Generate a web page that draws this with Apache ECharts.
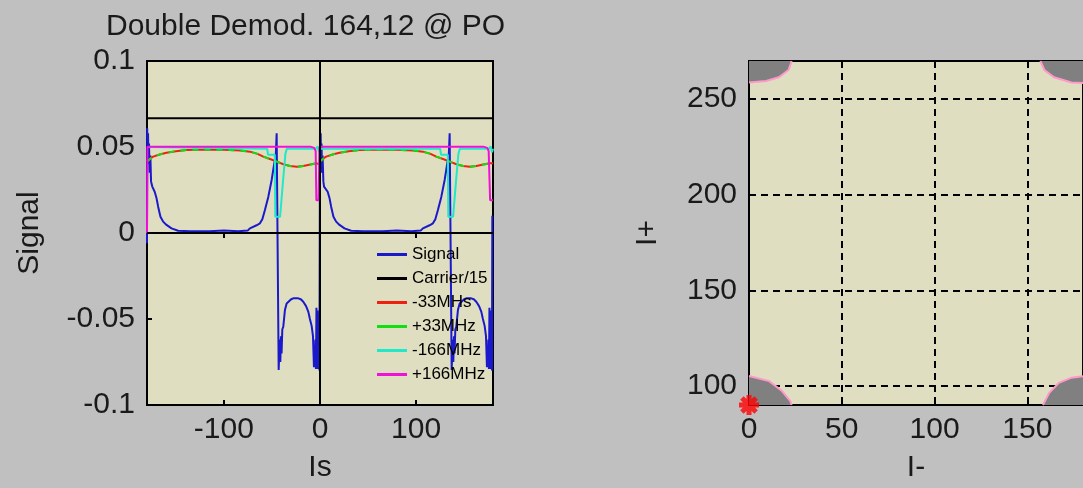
<!DOCTYPE html>
<html><head><meta charset="utf-8">
<script src="https://cdn.jsdelivr.net/npm/echarts@6/dist/echarts.min.js"></script>
<style>html,body{margin:0;padding:0;background:#c0c0c0}#c{width:1083px;height:488px}</style>
</head><body><div id="c"></div>
<script>
const titleText = 'Double Demod. 164,12 @ PO';
const seriesNames = ['Signal', 'Carrier/15', '-33MHs', '+33MHz', '-166MHz', '+166MHz'];
const leftXTicks = [-100, 0, 100];
const rightYTicks = [100, 150, 200, 250];

const signal = [[-180,-0.006],[-179.8,0.061],[-179.3,0.04],[-178.9,0.058],[-178.4,0.042],[-177.9,0.052],[-177.3,0.035],[-176.5,0.045],[-175.8,0.03],[-174.5,0.027],[-172,0.024],[-170,0.02],[-168.4,0.0153],[-166,0.0095],[-163.2,0.0066],[-159.7,0.0047],[-154.5,0.0027],[-147.6,0.0013],[-135,0.001],[-115,0.001],[-100,0.0015],[-85,0.001],[-75,0.0015],[-72.9,0.0027],[-66,0.0045],[-62.5,0.0056],[-60,0.008],[-57.3,0.0134],[-53.8,0.021],[-50.3,0.0308],[-47.6,0.0405],[-46,0.045],[-45.1,0.058],[-43,-0.0797],[-42,-0.062],[-41.3,-0.075],[-40.6,-0.06],[-40,-0.07],[-39.2,-0.056],[-38.2,-0.0545],[-36.5,-0.0448],[-34.7,-0.041],[-33,-0.04],[-30,-0.0385],[-27.8,-0.038],[-22.6,-0.038],[-20,-0.0385],[-17.4,-0.04],[-14.5,-0.0425],[-12.2,-0.0457],[-10.5,-0.05],[-8.7,-0.054],[-7.3,-0.06],[-6.3,-0.078],[-5.8,-0.066],[-5.3,-0.077],[-4.8,-0.062],[-4.2,-0.079],[-3.7,-0.0435],[-3.2,-0.079],[-2.6,-0.045],[-2,-0.079],[-1.4,-0.05],[-0.6,-0.08],
[0,0.061],[0.2,0.04],[0.7,0.058],[1.1,0.042],[1.6,0.052],[2.1,0.035],[2.7,0.045],[3.5,0.03],[4.2,0.027],[5.5,0.027],[8,0.024],[10,0.02],[11.6,0.0153],[14,0.0095],[16.8,0.0066],[20.3,0.0047],[25.5,0.0027],[32.4,0.0013],[45,0.001],[65,0.001],[80,0.0015],[95,0.001],[105,0.0015],[107.1,0.0027],[114,0.0045],[117.5,0.0056],[120,0.008],[122.7,0.0134],[126.2,0.021],[129.7,0.0308],[132.4,0.0405],[134,0.045],[134.9,0.058],[137,-0.0797],[138,-0.062],[138.7,-0.075],[139.4,-0.06],[140,-0.07],[140.8,-0.056],[141.8,-0.0545],[143.5,-0.0448],[145.3,-0.041],[147,-0.04],[150,-0.0385],[152.2,-0.038],[157.4,-0.038],[160,-0.0385],[162.6,-0.04],[165.5,-0.0425],[167.8,-0.0457],[169.5,-0.05],[171.3,-0.054],[172.7,-0.06],[173.7,-0.078],[174.2,-0.066],[174.7,-0.077],[175.2,-0.062],[175.8,-0.079],[176.3,-0.0435],[176.8,-0.079],[177.4,-0.045],[178,-0.079],[178.6,-0.05],[178.9,-0.08],[179.3,0.01],[180,0.01]];

const carrier = [[-180,0.0667],[180,0.0667]];

const minus33 = [[-180,0.0415],[-176,0.0435],[-173.6,0.0444],[-166,0.0458],[-159.7,0.0467],[-150,0.0475],[-138.9,0.0483],[-120,0.0485],[-100,0.0484],[-83,0.048],[-72.9,0.0473],[-65,0.046],[-59,0.0444],[-52,0.043],[-45,0.0415],[-38,0.04],[-31.3,0.039],[-24,0.0385],[-17.4,0.039],[-10,0.0398],[-3.5,0.0405],[-0.5,0.04],[0,0.0415],[4,0.0435],[6.4,0.0444],[14,0.0458],[20.3,0.0467],[30,0.0475],[41.1,0.0483],[60,0.0485],[80,0.0484],[97,0.048],[107.1,0.0473],[115,0.046],[121,0.0444],[128,0.043],[135,0.0415],[142,0.04],[148.7,0.039],[156,0.0385],[162.6,0.039],[170,0.0398],[176.5,0.0405],[180,0.0405]];

const plus33 = [[-180,0.0415],[-176,0.0435],[-173.6,0.0444],[-166,0.0458],[-159.7,0.0467],[-150,0.0475],[-138.9,0.0483],[-120,0.0485],[-100,0.0484],[-83,0.048],[-72.9,0.0473],[-65,0.046],[-59,0.0444],[-52,0.043],[-45,0.0415],[-38,0.04],[-31.3,0.039],[-24,0.0385],[-17.4,0.039],[-10,0.0398],[-3.5,0.0405],[-0.5,0.04],[0,0.0415],[4,0.0435],[6.4,0.0444],[14,0.0458],[20.3,0.0467],[30,0.0475],[41.1,0.0483],[60,0.0485],[80,0.0484],[97,0.048],[107.1,0.0473],[115,0.046],[121,0.0444],[128,0.043],[135,0.0415],[142,0.04],[148.7,0.039],[156,0.0385],[162.6,0.039],[170,0.0398],[176.5,0.0405],[180,0.0405]];

const minus166 = [[-180,0.05],[-179,0.049],[-55,0.049],[-54,0.0455],[-47,0.0455],[-46.5,0.0095],[-41.5,0.0095],[-38.5,0.03],[-36,0.046],[-34.5,0.049],[-4,0.049],[-2.5,0.0505],[-1,0.047],[0,0.049],[125,0.049],[126,0.0455],[133,0.0455],[133.5,0.0095],[138.5,0.0095],[141.5,0.03],[144,0.046],[145.5,0.049],[176,0.049],[177.5,0.0505],[179,0.047],[180,0.049]];

const plus166 = [[-180,0],[-179.5,0.0502],[-10,0.0502],[-6,0.0495],[-4.5,0.0476],[-3.8,0.019],[-1.5,0.019],[-0.5,0.0502],[170,0.0502],[174,0.0495],[175.5,0.0476],[177,0.019],[180,0.019]];

// right panel: grey corner regions (first point = corner, rest = pink edge curve)
const cornerTL = [[0,270],[0,258.8],[9.2,259.5],[16.1,261.5],[21.3,265.3],[23,270]];
const cornerBL = [[0,90],[0,105.2],[10.9,102.5],[17.8,97.3],[22.2,92.1],[23,90]];
const cornerBR = [[180,90],[158.4,90],[161.8,96.4],[167,101.6],[173.8,104.3],[180,105]];
const cornerTR = [[180,270],[157,270],[159.2,265.3],[164.4,261.5],[173.8,258.8],[180,258.5]];
const corners = [cornerTL, cornerBL, cornerBR, cornerTR];
const workPoint = [[0, 90]];

const FONT = '"Liberation Sans", Arial, sans-serif';
const TXT = '#1a1a1a';
const big = {fontFamily: FONT, fontSize: 30, color: TXT, fontWeight: 'normal'};
const blk = {color: '#000', width: 2};
const asterisk = 'path://M-1.5,-6L1.5,-6L1.5,6L-1.5,6Z M-6,-1.5L6,-1.5L6,1.5L-6,1.5Z M-5.3,-3.2L-3.2,-5.3L5.3,3.2L3.2,5.3Z M3.2,-5.3L5.3,-3.2L-3.2,5.3L-5.3,3.2Z';

const chart = echarts.init(document.getElementById('c'));
chart.setOption({
  backgroundColor: '#c0c0c0',
  animation: false,
  title: {text: titleText, left: 106, top: 12, padding: 0, textStyle: big},
  legend: {
    data: seriesNames, orient: 'vertical', left: 377, top: 246, padding: 0,
    itemWidth: 30, itemHeight: 3, itemGap: 7, icon: 'rect',
    textStyle: {fontFamily: FONT, fontSize: 17, color: '#000'}
  },
  grid: [
    {left: 147, top: 61, width: 346, height: 344, show: true, backgroundColor: '#e0dec0', borderColor: '#000', borderWidth: 2},
    {left: 749, top: 61, width: 346, height: 345, show: true, backgroundColor: '#e0dec0', borderColor: '#000', borderWidth: 2}
  ],
  xAxis: [
    {gridIndex: 0, type: 'value', min: -180, max: 180, position: 'bottom',
     name: 'Is', nameLocation: 'middle', nameGap: 48, nameTextStyle: big,
     axisLine: {show: true, onZero: false, lineStyle: blk},
     axisTick: {inside: true, length: 5, customValues: leftXTicks, lineStyle: blk},
     axisLabel: Object.assign({customValues: leftXTicks, margin: 10}, big),
     splitLine: {show: false}},
    {gridIndex: 0, type: 'value', min: -180, max: 180, position: 'top',
     axisLine: {show: false},
     axisTick: {inside: true, length: 5, customValues: leftXTicks, lineStyle: blk},
     axisLabel: {show: false}, splitLine: {show: false}},
    {gridIndex: 1, type: 'value', min: 0, max: 180, interval: 50, position: 'bottom',
     name: 'I-', nameLocation: 'middle', nameGap: 48, nameTextStyle: big,
     axisLine: {show: true, onZero: false, lineStyle: blk},
     axisTick: {inside: true, length: 5, lineStyle: blk},
     axisLabel: Object.assign({margin: 10, showMaxLabel: false}, big),
     splitLine: {show: true, lineStyle: {color: '#000', width: 2, type: [7, 5]}}}
  ],
  yAxis: [
    {gridIndex: 0, type: 'value', min: -0.1, max: 0.1, interval: 0.05,
     name: 'Signal', nameLocation: 'middle', nameGap: 102, nameRotate: 90, nameTextStyle: big,
     axisLine: {show: true, onZero: false, lineStyle: blk},
     axisTick: {inside: true, length: 5, lineStyle: blk},
     axisLabel: Object.assign({margin: 12}, big),
     splitLine: {show: false}},
    {gridIndex: 1, type: 'value', min: 90, max: 270,
     name: 'I+', nameLocation: 'middle', nameGap: 86, nameRotate: 90, nameTextStyle: big,
     axisLine: {show: true, onZero: false, lineStyle: blk},
     axisTick: {inside: true, length: 5, customValues: rightYTicks, lineStyle: blk},
     axisLabel: Object.assign({margin: 12, customValues: rightYTicks}, big),
     splitLine: {show: true, lineStyle: {color: '#000', width: 2, type: [7, 5]}}}
  ],
  series: [
    {name: 'Signal', type: 'line', xAxisIndex: 0, yAxisIndex: 0, data: signal, showSymbol: false, symbol: 'none',
     lineStyle: {color: '#1a1acc', width: 2}, itemStyle: {color: '#1a1acc'}},
    {name: 'Carrier/15', type: 'line', xAxisIndex: 0, yAxisIndex: 0, data: carrier, showSymbol: false, symbol: 'none',
     lineStyle: {color: '#000', width: 2}, itemStyle: {color: '#000'},
     markLine: {silent: true, symbol: 'none', label: {show: false}, lineStyle: {color: '#000', width: 2, type: 'solid'},
       data: [{xAxis: 0}, {yAxis: 0}]}},
    {name: '-33MHs', type: 'line', xAxisIndex: 0, yAxisIndex: 0, data: minus33, showSymbol: false, symbol: 'none',
     lineStyle: {color: '#f02010', width: 2}, itemStyle: {color: '#f02010'}},
    {name: '+33MHz', type: 'line', xAxisIndex: 0, yAxisIndex: 0, data: plus33, showSymbol: false, symbol: 'none',
     lineStyle: {color: '#10e010', width: 2, type: [6, 6]}, itemStyle: {color: '#10e010'}},
    {name: '-166MHz', type: 'line', xAxisIndex: 0, yAxisIndex: 0, data: minus166, showSymbol: false, symbol: 'none',
     lineStyle: {color: '#20e8c8', width: 2}, itemStyle: {color: '#20e8c8'}},
    {name: '+166MHz', type: 'line', xAxisIndex: 0, yAxisIndex: 0, data: plus166, showSymbol: false, symbol: 'none',
     lineStyle: {color: '#f010d8', width: 2}, itemStyle: {color: '#f010d8'}},
    {type: 'custom', xAxisIndex: 2, yAxisIndex: 1, data: corners.map(c => c[0]), silent: true,
     renderItem: function (params, api) {
       const pts = corners[params.dataIndex].map(p => api.coord(p));
       return {type: 'group', children: [
         {type: 'polygon', shape: {points: pts}, style: {fill: '#808080', stroke: null}},
         {type: 'polyline', shape: {points: pts.slice(1)}, style: {stroke: '#ff99cc', lineWidth: 2, fill: null}}
       ]};
     }},
    {type: 'scatter', xAxisIndex: 2, yAxisIndex: 1, data: workPoint, symbol: asterisk, symbolSize: 20,
     clip: false, z: 10, itemStyle: {color: '#ff0000'}}
  ]
});
</script></body></html>
